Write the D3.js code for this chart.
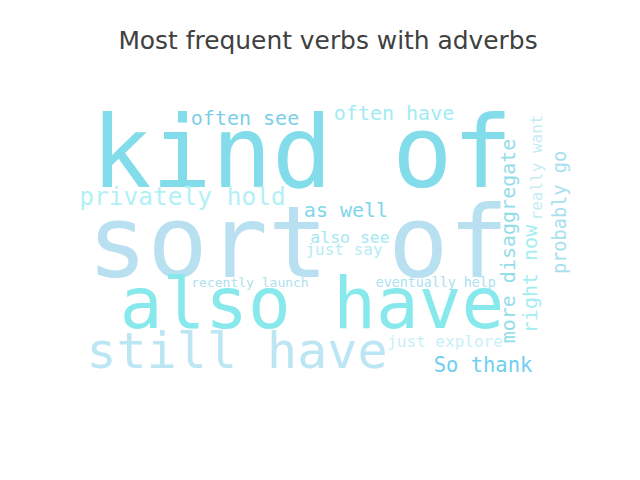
<!DOCTYPE html>
<html>
<head>
<meta charset="utf-8">
<script src="https://cdn.jsdelivr.net/npm/d3@7"></script>
<style>
  html, body { margin: 0; padding: 0; background: #fff; }
  svg text { font-family: "DejaVu Sans Mono", monospace; }
</style>
</head>
<body>
<div id="chart"></div>
<script>
// words and their relative weight (font size in the cloud)
var words = ['kind of', 'sort of', 'also have', 'still have', 'privately hold',
             'often see', 'often have', 'as well', 'also see', 'just say',
             'recently launch', 'eventually help', 'just explore', 'So thank',
             'more disaggregate', 'right now', 'really want', 'probably go'];
var weights = [100, 100, 71, 50, 24.5, 20, 20, 20, 16.5, 16, 13, 13.3, 16, 20.5, 20, 20, 16, 18.6];

// layout of the cloud (cloud units, baseline centre of each word)
var cloudX = [222, 218, 232, 157, 102.5, 165, 314, 266, 270, 264, 170, 355.8, 365, 403, 435, 456.5, 461.5, 486];
var cloudY = [84, 174, 225, 265, 102, 22, 17, 114, 140, 152, 184, 184, 244, 269, 138, 176, 64.5, 109.5];
var vertical = [0, 0, 0, 0, 0, 0, 0, 0, 0, 0, 0, 0, 0, 0, 1, 1, 1, 1];
var colors = ['#82dcea', '#b8e0f0', '#88e9ec', '#bce6f4', '#b2f0f6', '#7dcfe8', '#a0ecf5', '#7fd6ea',
              '#a5e8f2', '#b7ecf4', '#b0e0ee', '#aadff0', '#c8f0f8', '#70cfef', '#93dde9', '#a4eef2',
              '#c6ecf2', '#a8e0ef'];

var title = 'Most frequent verbs with adverbs';

var width = 640, height = 480;

var svg = d3.select('#chart')
    .append('svg')
    .attr('width', width)
    .attr('height', height);

// image area of the cloud inside the figure
var x = d3.scaleLinear().domain([0, 496]).range([80, 576]);
var y = d3.scaleLinear().domain([0, 279]).range([103, 382]);
var size = d3.scaleLinear().domain([0, 100]).range([0, 100]);

var data = words.map(function(w, i){
    return {text: w, weight: weights[i], cx: cloudX[i], cy: cloudY[i], rot: vertical[i], color: colors[i]};
});

svg.append('g')
    .selectAll('text')
    .data(data)
    .enter()
    .append('text')
    .attr('text-anchor', 'middle')
    .attr('transform', function(d){
        return 'translate(' + x(d.cx) + ',' + y(d.cy) + ')' + (d.rot ? ' rotate(-90)' : '');
    })
    .attr('font-size', function(d){ return size(d.weight) + 'px'; })
    .attr('fill', function(d){ return d.color; })
    .text(function(d){ return d.text; });

svg.append('text')
    .attr('x', 328)
    .attr('y', 48.5)
    .attr('text-anchor', 'middle')
    .style('font-family', '"DejaVu Sans", sans-serif')
    .attr('font-size', '24.9px')
    .attr('fill', '#404040')
    .text(title);
</script>
</body>
</html>
